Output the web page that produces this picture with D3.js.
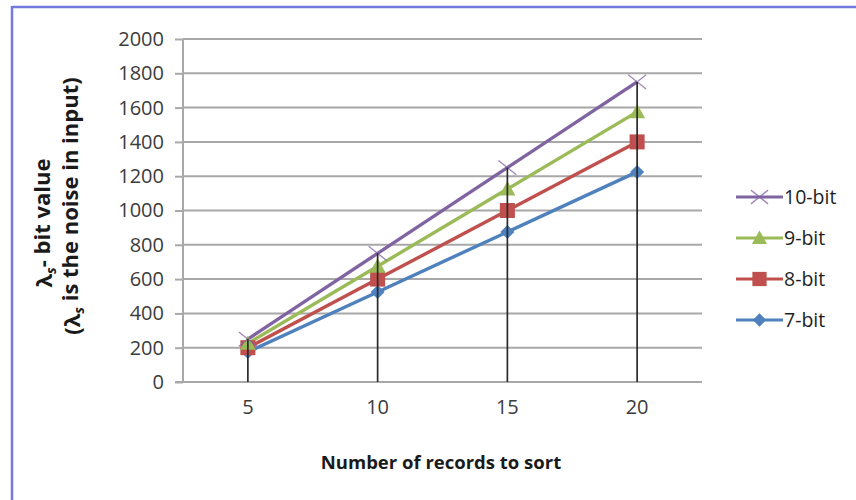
<!DOCTYPE html>
<html><head><meta charset="utf-8">
<script src="https://cdn.jsdelivr.net/npm/d3@7"></script>
<style>
html,body{margin:0;padding:0;background:#fff;}
svg{display:block;}
text{font-family:"Open Sans","Noto Sans",sans-serif;}
</style></head>
<body><svg id="c" width="856" height="500"></svg>
<script>
const categories = [5, 10, 15, 20];
const seriesNames = ["10-bit", "9-bit", "8-bit", "7-bit"];
const bit10 = [250, 750, 1250, 1750];
const bit9 = [225, 675, 1125, 1575];
const bit8 = [200, 600, 1000, 1400];
const bit7 = [175, 525, 875, 1225];
const yTicks = [0, 200, 400, 600, 800, 1000, 1200, 1400, 1600, 1800, 2000];
const colors = ["#8064A2", "#9BBB59", "#C0504D", "#4F81BD"];
const markers = ["x", "triangle", "square", "diamond"];

const series = [
  {name: seriesNames[0], values: bit10, color: colors[0], marker: markers[0]},
  {name: seriesNames[1], values: bit9, color: colors[1], marker: markers[1]},
  {name: seriesNames[2], values: bit8, color: colors[2], marker: markers[2]},
  {name: seriesNames[3], values: bit7, color: colors[3], marker: markers[3]}
];

const svg = d3.select("#c");
// frame border (top and left)
svg.append("line").attr("x1",12).attr("x2",856).attr("y1",7).attr("y2",7).attr("stroke","#7479dc").attr("stroke-width",2.5);
svg.append("line").attr("x1",12).attr("x2",12).attr("y1",6).attr("y2",500).attr("stroke","#7479dc").attr("stroke-width",2.5);

const pLeft = 183, pRight = 702, pTop = 39, pBottom = 382;
const x = d3.scaleBand().domain(categories).range([pLeft, pRight]);
const y = d3.scaleLinear().domain([0, 2000]).range([pBottom, pTop]);
const cx = d => x(d) + x.bandwidth()/2;

// gridlines
svg.append("g").selectAll("line").data(yTicks.filter(d=>d>0)).join("line")
  .attr("x1", pLeft).attr("x2", pRight).attr("y1", d=>y(d)).attr("y2", d=>y(d))
  .attr("stroke", "#a8a8a8").attr("stroke-width", 2);

// y axis
const yAxis = svg.append("g").attr("transform", `translate(${pLeft},0)`)
  .call(d3.axisLeft(y).tickValues(yTicks).tickSize(8).tickPadding(11).tickFormat(d3.format("d")));
yAxis.select(".domain").attr("stroke","#a8a8a8").attr("stroke-width",2).attr("d", `M-0,${pTop}V${pBottom}`);
yAxis.selectAll(".tick line").attr("stroke","#a8a8a8").attr("stroke-width",2);
yAxis.selectAll(".tick text").attr("fill","#3c3c3c").style("font-size","20px").style("font-family","'Open Sans',sans-serif");

// x axis
const xAxis = svg.append("g").attr("transform", `translate(0,${pBottom})`)
  .call(d3.axisBottom(x).tickSize(0).tickPadding(18));
xAxis.select(".domain").attr("stroke","#a8a8a8").attr("stroke-width",2).attr("d", `M${pLeft-8},0H${pRight}`);
xAxis.selectAll(".tick text").attr("fill","#3c3c3c").style("font-size","20px").style("font-family","'Open Sans',sans-serif");

// lines
const line = d3.line().x((d,i)=>cx(categories[i])).y(d=>y(d));
const drawOrder = series.slice().reverse();
const g = svg.append("g");
drawOrder.forEach(s => {
  g.append("path").attr("d", line(s.values)).attr("fill","none").attr("stroke", s.color).attr("stroke-width", 3.4);
});
function drawMarker(sel, type, color, px, py, scale) {
  scale = scale || 1;
  if (type === "x") {
    const r = 9*scale;
    sel.append("path").attr("d", `M${px-r},${py-r*0.8}L${px+r},${py+r*0.8}M${px-r},${py+r*0.8}L${px+r},${py-r*0.8}`)
      .attr("stroke", color).attr("stroke-width", 1.4).attr("fill","none").attr("opacity",0.75);
  } else if (type === "triangle") {
    const r = 8*scale;
    sel.append("path").attr("d", `M${px},${py-r}L${px+r},${py+r*0.8}L${px-r},${py+r*0.8}Z`).attr("fill", color);
  } else if (type === "square") {
    const r = 7.5*scale;
    sel.append("rect").attr("x", px-r).attr("y", py-r).attr("width", 2*r).attr("height", 2*r).attr("fill", color);
  } else if (type === "diamond") {
    const r = 7*scale;
    sel.append("path").attr("d", `M${px},${py-r}L${px+r},${py}L${px},${py+r}L${px-r},${py}Z`).attr("fill", color);
  }
}
drawOrder.forEach(s => {
  s.values.forEach((v,i) => drawMarker(g, s.marker, s.color, cx(categories[i]), y(v)));
});

// drop lines
svg.append("g").selectAll("line").data(categories).join("line")
  .attr("x1", d=>cx(d)).attr("x2", d=>cx(d))
  .attr("y1", (d,i)=>y(d3.max(series, s=>s.values[i]))).attr("y2", pBottom)
  .attr("stroke","#2a2a2a").attr("stroke-width",1.7);

// legend
const lg = svg.append("g");
series.forEach((s,i) => {
  const ly = 197 + i*41;
  lg.append("line").attr("x1",736).attr("x2",783).attr("y1",ly).attr("y2",ly).attr("stroke", s.color).attr("stroke-width",3);
  drawMarker(lg, s.marker, s.color, 759.5, ly, 0.95);
  lg.append("text").attr("x",784).attr("y",ly).attr("dy","0.35em").text(s.name)
    .attr("fill","#1e1e1e").style("font-size","19.5px");
});

// x title
svg.append("text").attr("x", 441).attr("y", 463).attr("dy","0.35em").attr("text-anchor","middle")
  .attr("fill","#1a1a1a").style("font-size","18.5px").style("font-weight","bold").text("Number of records to sort");

// y title (two lines, rotated)
const t1 = svg.append("text").attr("transform","translate(52,223) rotate(-90)").attr("text-anchor","middle")
  .attr("fill","#1a1a1a").style("font-size","22px").style("font-weight","bold");
t1.append("tspan").text("λ");
t1.append("tspan").text("s").attr("dy","0.3em").style("font-size","14px").style("font-style","italic");
t1.append("tspan").text("- bit value").attr("dy","-0.3em");
const t2 = svg.append("text").attr("transform","translate(80,206) rotate(-90)").attr("text-anchor","middle")
  .attr("fill","#1a1a1a").style("font-size","22px").style("font-weight","bold");
t2.append("tspan").text("(λ");
t2.append("tspan").text("s").attr("dy","0.3em").style("font-size","14px").style("font-style","italic");
t2.append("tspan").text(" is the noise in input)").attr("dy","-0.3em");
</script></body></html>
